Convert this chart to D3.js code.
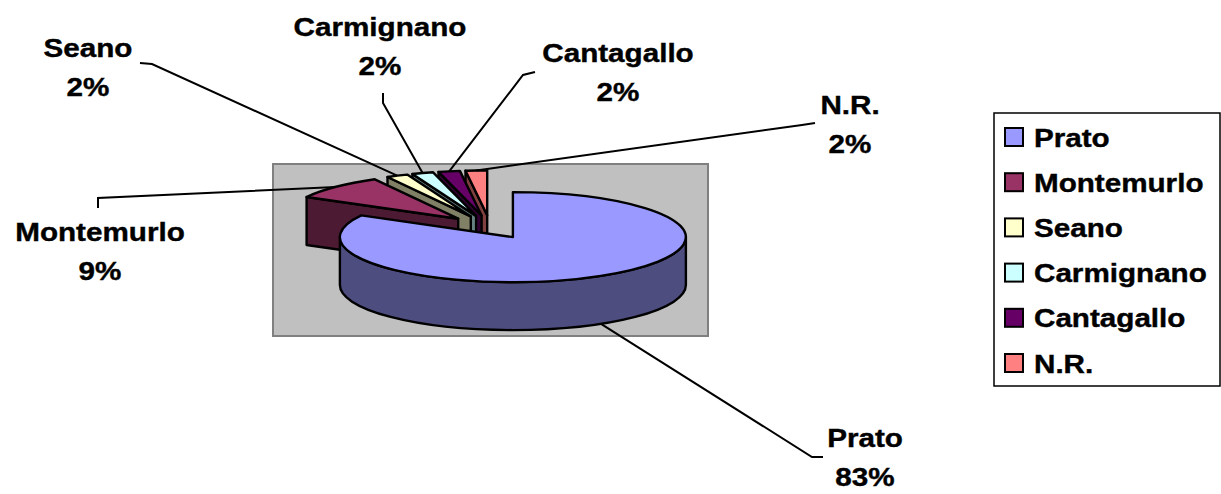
<!DOCTYPE html>
<html>
<head>
<meta charset="utf-8">
<script src="https://cdn.jsdelivr.net/npm/d3@7"></script>
<style>
  html, body { margin: 0; padding: 0; background: #fff; }
  svg { display: block; }
  text { font-family: "Liberation Sans", Arial, sans-serif; font-weight: bold; fill: #000; stroke: #000; stroke-width: 0.4px; }
</style>
</head>
<body>
<svg id="chart" width="1221" height="494"></svg>
<script>
// Chart data
const categories = ["Prato", "Montemurlo", "Seano", "Carmignano", "Cantagallo", "N.R."];
const shares = [83, 9, 2, 2, 2, 2];
const topColors = ["#9999FF", "#993366", "#FFFFCC", "#CCFFFF", "#660066", "#FF8080"];

// Layout
const W = 1221, H = 494;
const plotArea = { x: 273, y: 164, w: 435, h: 172 };
const pieCenter = { x: 490, y: 227 };
const rx = 173, ry = 45, depth = 48, explode = 45;
const fontSize = 26, stretch = 1.14;

// Label placement: centre x, first baseline, and the leader line stub near the label
const labelLayout = {
  "Prato":      { x: 865, y: 447, stub: [[823, 457], [812, 457]] },
  "Montemurlo": { x: 100, y: 241, stub: [[98, 208], [98, 198]] },
  "Seano":      { x: 88,  y: 57,  stub: [[140, 63], [152, 64]] },
  "Carmignano": { x: 380, y: 36,  stub: [[383, 93], [383, 103]] },
  "Cantagallo": { x: 618, y: 62,  stub: [[535, 72], [523, 75]] },
  "N.R.":       { x: 850, y: 114, stub: [[815, 123], [802, 125]] }
};
const lineGap = 38.5;

const svg = d3.select("#chart");

// Plot area background
svg.append("rect")
  .attr("x", plotArea.x).attr("y", plotArea.y)
  .attr("width", plotArea.w).attr("height", plotArea.h)
  .attr("fill", "#C0C0C0").attr("stroke", "#808080").attr("stroke-width", 2);

const pie = d3.pie().sort(null).value(d => d)(shares);

const half = c => { const k = d3.rgb(c); return d3.rgb(k.r / 2, k.g / 2, k.b / 2).formatHex(); };

// Projection of a point on the tilted pie
function P(c, a, z) {
  return [c.x + rx * Math.sin(a), c.y - ry * Math.cos(a) + (z || 0)];
}

const slices = pie.map((p, i) => {
  const mid = (p.startAngle + p.endAngle) / 2;
  const c = {
    x: pieCenter.x + explode * Math.sin(mid),
    y: pieCenter.y - explode * (ry / rx) * Math.cos(mid)
  };
  return { i, name: categories[i], value: shares[i], a0: p.startAngle, a1: p.endAngle, mid, c };
});

const fmt = v => v.toFixed(1);
function arcTo(c, a0, a1, z, sweep) {
  const [x, y] = P(c, a1, z);
  const large = Math.abs(a1 - a0) > Math.PI ? 1 : 0;
  return `A${rx},${ry} 0 ${large} ${sweep} ${fmt(x)},${fmt(y)}`;
}

const pieG = svg.append("g");
const ordered = slices.slice().sort((a, b) => a.c.y - b.c.y);

ordered.forEach(s => {
  const g = pieG.append("g");
  const side = half(topColors[s.i]);
  const style = sel => sel.attr("stroke", "#000").attr("stroke-width", 2.4).attr("stroke-linejoin", "round");

  // Radial cut faces that face the viewer
  [[s.a0, s.a0 - Math.PI / 2], [s.a1, s.a1 + Math.PI / 2]].forEach(([a, n]) => {
    if (Math.cos(n) < -1e-6) {
      const o = P(s.c, a), ob = P(s.c, a, depth);
      const pts = [[s.c.x, s.c.y], o, ob, [s.c.x, s.c.y + depth]];
      g.append("path").attr("d", "M" + pts.map(p => p.map(fmt).join(",")).join("L") + "Z")
        .attr("fill", side).call(style);
    }
  });

  // Outer curved wall, front half only
  const b0 = Math.max(s.a0, Math.PI / 2), b1 = Math.min(s.a1, 3 * Math.PI / 2);
  if (b1 > b0) {
    const t0 = P(s.c, b0), bt1 = P(s.c, b1, depth);
    const d = `M${fmt(t0[0])},${fmt(t0[1])}` + arcTo(s.c, b0, b1, 0, 1) +
      `L${fmt(bt1[0])},${fmt(bt1[1])}` + arcTo(s.c, b1, b0, depth, 0) + "Z";
    g.append("path").attr("d", d).attr("fill", side).call(style);
  }

  // Top face
  const o0 = P(s.c, s.a0);
  const dTop = `M${fmt(s.c.x)},${fmt(s.c.y)}L${fmt(o0[0])},${fmt(o0[1])}` + arcTo(s.c, s.a0, s.a1, 0, 1) + "Z";
  g.append("path").attr("d", dTop).attr("fill", topColors[s.i]).call(style);
});

// Leader lines and data labels
const labelG = svg.append("g");
slices.forEach(s => {
  const L = labelLayout[s.name];
  const front = Math.cos(s.mid) < 0;
  const anchor = P(s.c, s.mid, front ? depth : 0);
  const pts = [...L.stub, anchor];
  labelG.append("path")
    .attr("d", "M" + pts.map(p => p.map(fmt).join(",")).join("L"))
    .attr("fill", "none").attr("stroke", "#000").attr("stroke-width", 2);

  [s.name, s.value + "%"].forEach((t, k) => {
    labelG.append("text")
      .attr("transform", `translate(${L.x},${L.y + k * lineGap}) scale(${stretch},1)`)
      .attr("text-anchor", "middle")
      .attr("font-size", fontSize)
      .text(t);
  });
});

// Legend
const legend = { x: 994, y: 113, w: 226, h: 273, row0: 137, rowGap: 45.2 };
const lg = svg.append("g");
lg.append("rect")
  .attr("x", legend.x).attr("y", legend.y).attr("width", legend.w).attr("height", legend.h)
  .attr("fill", "#fff").attr("stroke", "#000").attr("stroke-width", 1.5);
categories.forEach((name, i) => {
  const cy = legend.row0 + i * legend.rowGap;
  lg.append("rect")
    .attr("x", 1005).attr("y", cy - 9).attr("width", 18).attr("height", 18)
    .attr("fill", topColors[i]).attr("stroke", "#000").attr("stroke-width", 2);
  lg.append("text")
    .attr("transform", `translate(1034,${cy + 9.5}) scale(${stretch},1)`)
    .attr("font-size", fontSize)
    .text(name);
});
</script>
</body>
</html>
